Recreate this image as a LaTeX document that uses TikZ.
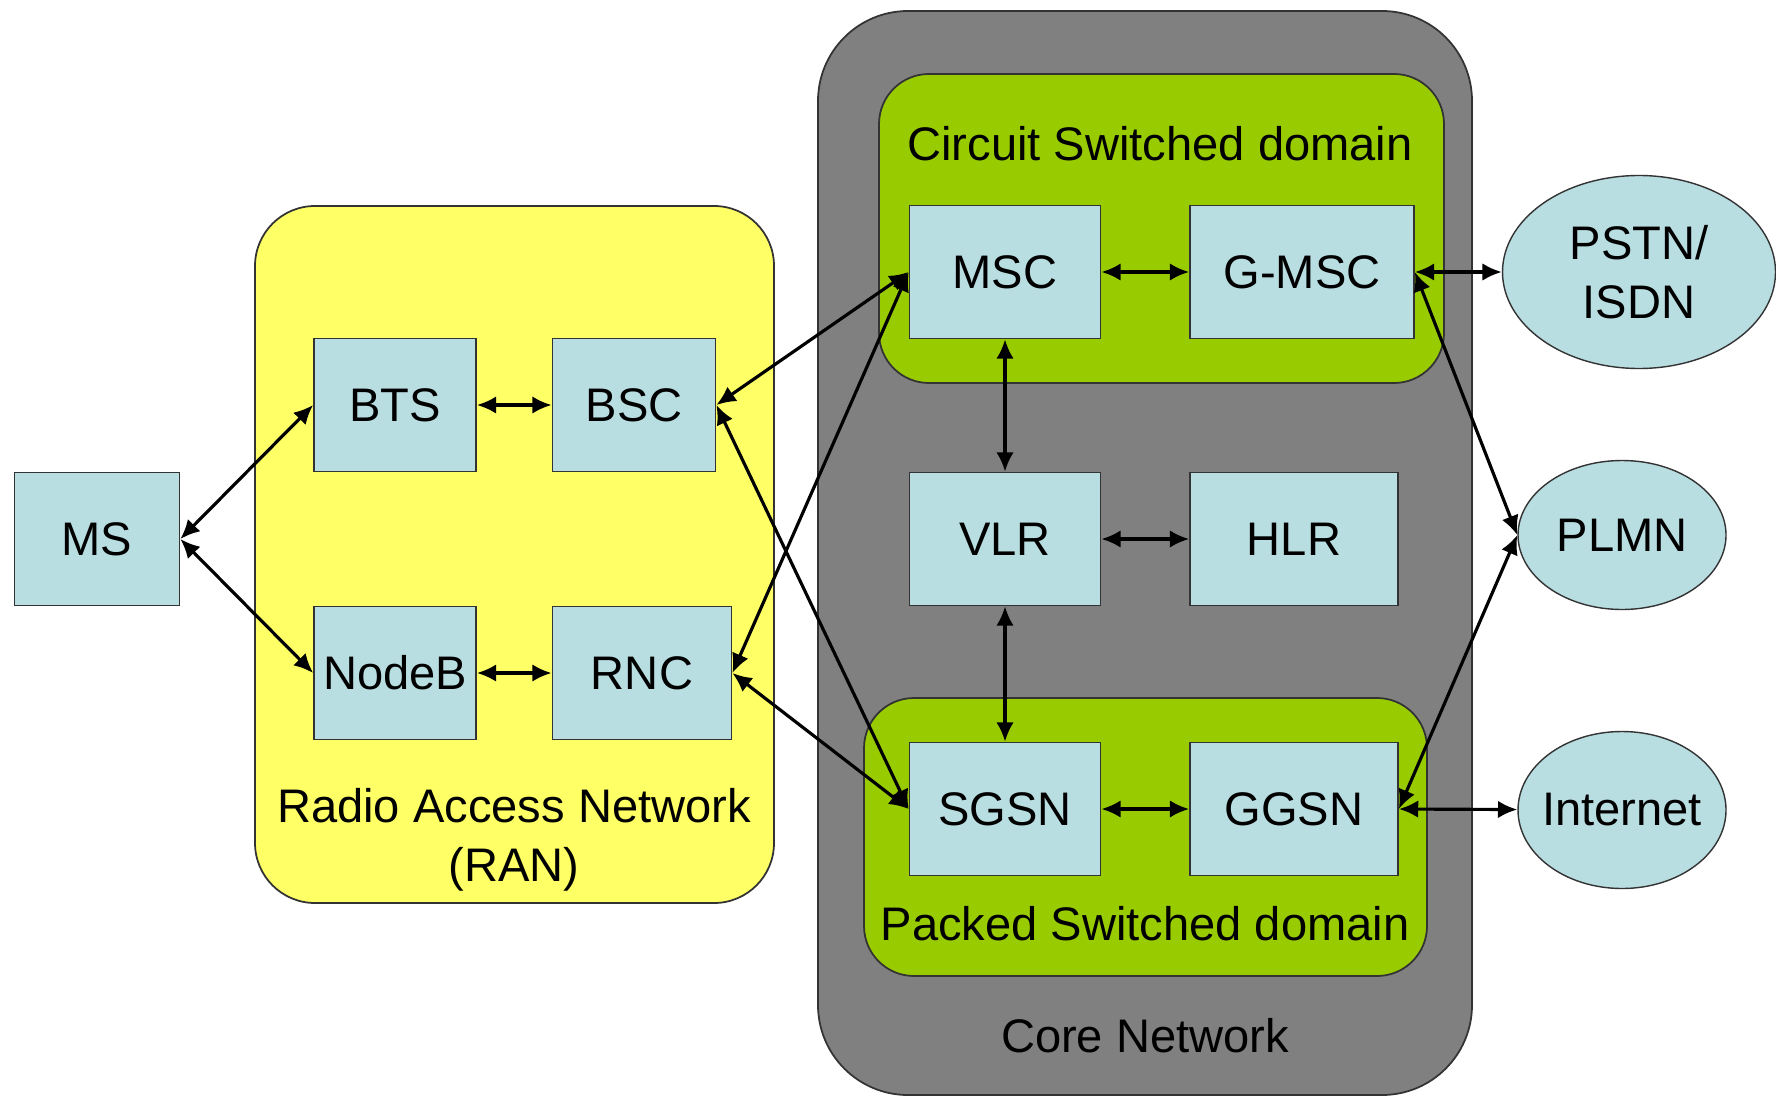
\documentclass[tikz,border=0pt]{standalone}
\usepackage{fontspec}
\setmainfont{Liberation Sans}
\usepackage{tikz}
\usetikzlibrary{positioning,shapes.geometric,arrows.meta}

\definecolor{boxblue}{RGB}{185,222,226}
\definecolor{ranyellow}{RGB}{255,255,102}
\definecolor{domgreen}{RGB}{153,204,0}
\definecolor{coregray}{RGB}{128,128,128}

\tikzset{
    unit/.style={draw=black!80, fill=boxblue, line width=0.5pt,
        minimum width=1.62cm, minimum height=1.33cm, inner sep=1pt},
    cloud/.style={ellipse, draw=black!80, fill=boxblue, line width=0.4pt,
        align=center, inner sep=0pt},
    area/.style={draw=black!80, line width=0.5pt},
    caption/.style={align=center},
    link/.style={<->, line width=0.9pt,
        >={Latex[length=5.5pt,width=5pt]}}
}

\begin{document}
\begin{tikzpicture}[on grid, font=\fontsize{13.4}{16.8}\selectfont]
            \useasboundingbox (0,0) rectangle (17.76,-10.97);
            % areas
            \draw[area, fill=coregray, rounded corners=0.9cm] (8.18,-0.11) rectangle (14.72,-10.95);
            \draw[area, fill=domgreen, rounded corners=0.5cm] (8.79,-0.74) rectangle (14.44,-3.83);
            \draw[area, fill=domgreen, rounded corners=0.5cm] (8.64,-6.98) rectangle (14.27,-9.76);
            \draw[area, fill=ranyellow, rounded corners=0.6cm] (2.55,-2.06) rectangle (7.74,-9.03);
            \node[caption] (cs_lbl) at (11.60,-1.44) {Circuit Switched domain};
            \node[caption] (ps_lbl) at (11.45,-9.24) {Packed Switched domain};
            \node[caption] (core_lbl) at (11.45,-10.36) {Core Network};
            \node[caption] (ran_lbl) at (5.14,-8.40) {Radio Access Network\\(RAN)};
            % radio side
            \node[unit, minimum width=1.65cm] (ms) at (0.97,-5.39) {MS};
            \node[unit] (bts) at (3.95,-4.05) {BTS};
            \node[unit, minimum width=1.63cm] (bsc) [right=2.39 of bts] {BSC};
            \node[unit] (nodeb) [below=2.68 of bts] {NodeB};
            \node[unit, minimum width=1.79cm] (rnc) [right=2.47 of nodeb] {RNC};
            % core side
            \node[unit, minimum width=1.91cm] (msc) at (10.05,-2.72) {MSC};
            \node[unit, minimum width=2.24cm] (gmsc) [right=2.97 of msc] {G-MSC};
            \node[unit, minimum width=1.91cm] (vlr) [below=2.67 of msc] {VLR};
            \node[unit, minimum width=2.08cm] (hlr) [right=2.89 of vlr] {HLR};
            \node[unit, minimum width=1.91cm] (sgsn) [below=2.70 of vlr] {SGSN};
            \node[unit, minimum width=2.08cm] (ggsn) [right=2.89 of sgsn] {GGSN};
            % outside networks
            \node[cloud, minimum width=2.73cm, minimum height=1.93cm] (pstn) at (16.39,-2.72) {PSTN/\\ISDN};
            \node[cloud, minimum width=2.08cm, minimum height=1.49cm] (plmn) at (16.22,-5.35) {PLMN};
            \node[cloud, minimum width=2.08cm, minimum height=1.57cm, inner xsep=-0.07cm] (inet) at (16.22,-8.10) {Internet};
            \path[link]
                (ms.east) edge (bts.west)
                (ms.east) edge (nodeb.west)
                (bts) edge (bsc)
                (nodeb) edge (rnc)
                (bsc.east) edge (msc.west)
                (bsc.east) edge (sgsn.west)
                (rnc.east) edge (msc.west)
                (rnc.east) edge (sgsn.west)
                (msc) edge (gmsc)
                (msc) edge (vlr)
                (vlr) edge (hlr)
                (vlr) edge (sgsn)
                (sgsn) edge (ggsn)
                (gmsc.east) edge (pstn)
                (gmsc.east) edge (plmn.west)
                (ggsn.east) edge (plmn.west)
                (ggsn.east) edge (inet);
        \end{tikzpicture}
\end{document}
